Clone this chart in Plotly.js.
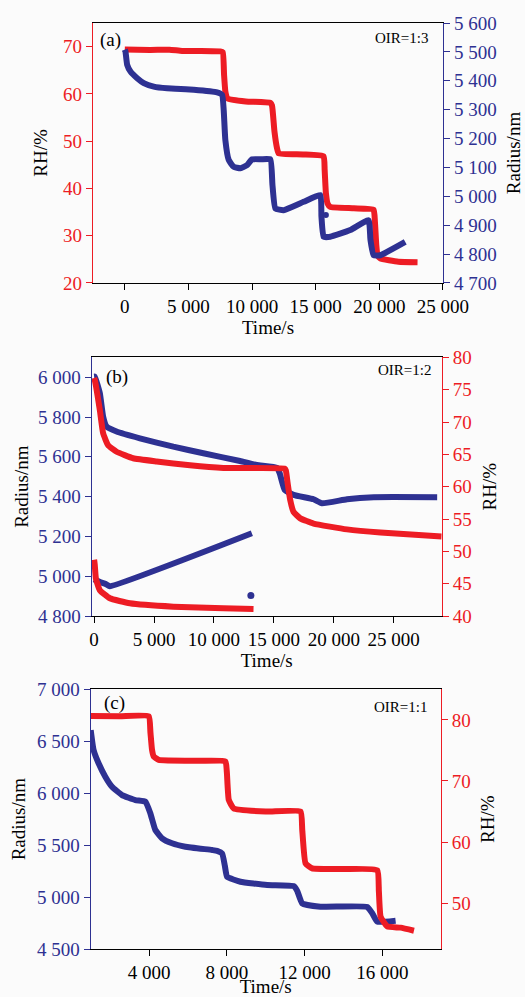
<!DOCTYPE html>
<html><head><meta charset="utf-8">
<script src="https://cdn.plot.ly/plotly-3.0.1.min.js"></script>
<style>html,body{margin:0;padding:0;background:#fbfbfb}</style>
</head><body><div id="chart" style="width:525px;height:997px"></div>
<script>
// ---------- Panel (a) OIR=1:3 ----------
const timeA_RH = [0, 2000, 3500, 4500, 6000, 7500, 7700, 7800, 7900, 8040, 9500, 11440, 11570, 11760, 11960, 12090, 14000, 15620, 15700, 15800, 15930, 16140, 18000, 19545, 19650, 19760, 19860, 20070, 21500, 23000];
const rhA = [69.4, 69.3, 69.35, 69.1, 69.1, 69.0, 68.8, 64.0, 60.5, 59.1, 58.4, 58.1, 57.5, 52.0, 48.5, 47.4, 47.2, 46.8, 44.0, 39.0, 36.8, 36.1, 35.8, 35.5, 33.0, 28.0, 25.8, 25.2, 24.5, 24.4];
const timeA_R = [0, 55, 188, 447, 973, 1491, 2276, 3327, 5418, 7252, 7645, 7770, 7900, 8163, 8556, 9082, 9608, 10000, 10700, 11436, 11600, 11830, 12480, 14050, 15360, 15450, 15620, 16145, 17717, 19152, 19300, 19545, 20070, 22033];
const radiusA = [5508, 5501, 5455, 5432, 5409, 5392, 5380, 5374, 5369, 5360, 5351, 5299, 5195, 5126, 5102, 5097, 5108, 5128, 5128, 5128, 5040, 4958, 4952, 4981, 5004, 4930, 4860, 4860, 4883, 4917, 4850, 4796, 4796, 4842];
const timeA_stub = [15800];
const radiusA_stub = [4935];

// ---------- Panel (b) OIR=1:2 ----------
const timeB_Rup = [0, 58, 477, 753, 1037, 1873, 3821, 6606, 9114, 12177, 13570, 15240, 15480, 15900, 16640, 18311, 19011, 21100, 23330, 28623];
const radiusB_up = [6003, 6003, 5920, 5802, 5752, 5727, 5693, 5651, 5618, 5579, 5559, 5546, 5518, 5434, 5409, 5387, 5367, 5387, 5397, 5397];
const timeB_Rlow = [0, 400, 753, 1000, 1313, 13161];
const radiusB_low = [4985, 4973, 4965, 4960, 4950, 5216];
const timeB_dot = [13078];
const radiusB_dot = [4903];
const timeB_RHup = [0, 58, 477, 753, 1170, 1873, 3260, 5217, 8000, 10790, 15900, 16000, 16150, 16360, 16640, 17200, 18311, 21100, 23890, 29000];
const rhB_up = [76.8, 76.5, 71.85, 68.25, 66.4, 65.4, 64.4, 63.9, 63.3, 62.9, 62.8, 62.5, 60.5, 57.95, 56.1, 55.1, 54.3, 53.4, 52.9, 52.3];
const timeB_RHlow = [0, 50, 150, 477, 1313, 2985, 6606, 10786, 13300];
const rhB_low = [48.7, 48.0, 45.8, 44.0, 42.75, 41.97, 41.45, 41.2, 41.1];

// ---------- Panel (c) OIR=1:1 ----------
const timeC_RH = [1000, 2500, 3983, 4070, 4153, 4240, 4497, 6600, 7929, 8000, 8101, 8358, 10000, 11791, 11880, 12047, 12390, 14000, 15737, 15820, 15910, 16253, 16940, 17625];
const rhC = [80.65, 80.6, 80.6, 78.0, 75.1, 74.0, 73.45, 73.3, 73.2, 71.5, 66.9, 65.5, 65.0, 65.0, 62.0, 56.55, 55.7, 55.6, 55.4, 52.0, 47.8, 46.2, 46.0, 45.5];
const timeC_R = [1000, 1147, 1405, 1750, 2095, 2610, 3295, 3810, 4067, 4324, 4670, 5184, 5870, 7244, 7500, 7760, 7900, 8015, 8700, 10075, 11446, 11620, 11876, 12819, 15221, 15480, 15738, 16681];
const radiusC = [6608, 6416, 6288, 6159, 6062, 5982, 5934, 5918, 5806, 5646, 5566, 5518, 5485, 5453, 5445, 5420, 5300, 5196, 5148, 5116, 5105, 5060, 4940, 4908, 4905, 4844, 4763, 4773];

const RED = '#ed1c24';
const BLUE = '#2e3192';
const FONT = 'Liberation Serif, Times New Roman, serif';
const LW = 6;

function line(x, y, color, xa, ya, name) {
  return {x: x, y: y, xaxis: xa, yaxis: ya, mode: 'lines', name: name,
    line: {color: color, width: LW, shape: 'spline', smoothing: 0.4}, showlegend: false};
}
function dots(x, y, color, xa, ya, size, name) {
  return {x: x, y: y, xaxis: xa, yaxis: ya, mode: 'markers', name: name,
    marker: {color: color, size: size}, showlegend: false};
}

const data = [
  line(timeA_RH, rhA, RED, 'x', 'y', 'RH (a)'),
  line(timeA_R, radiusA, BLUE, 'x', 'y2', 'Radius (a)'),
  dots(timeA_stub, radiusA_stub, BLUE, 'x', 'y2', 6, 'Radius (a) point'),

  line(timeB_Rup, radiusB_up, BLUE, 'x2', 'y3', 'Radius (b) upper'),
  line(timeB_Rlow, radiusB_low, BLUE, 'x2', 'y3', 'Radius (b) lower'),
  dots(timeB_dot, radiusB_dot, BLUE, 'x2', 'y3', 7, 'Radius (b) point'),
  line(timeB_RHup, rhB_up, RED, 'x2', 'y4', 'RH (b) upper'),
  line(timeB_RHlow, rhB_low, RED, 'x2', 'y4', 'RH (b) lower'),

  line(timeC_R, radiusC, BLUE, 'x3', 'y5', 'Radius (c)'),
  line(timeC_RH, rhC, RED, 'x3', 'y6', 'RH (c)')
];

const tickBase = {ticks: 'outside', ticklen: 6, tickwidth: 1, showgrid: false, zeroline: false,
  showline: true, linewidth: 1.2, tickformat: ',d'};

function xax(domain, anchor, range, dtick, standoff) {
  return Object.assign({}, tickBase, {domain: domain, anchor: anchor, range: range, dtick: dtick, tick0: 0,
    linecolor: '#000', tickcolor: '#000', mirror: true,
    tickfont: {family: FONT, size: 19, color: '#000'},
    title: {text: 'Time/s', font: {family: FONT, size: 19, color: '#000'}, standoff: standoff}});
}
function yax(domain, anchor, range, dtick, color, side, title, standoff, overlay) {
  const o = Object.assign({}, tickBase, {domain: domain, anchor: anchor, range: range, dtick: dtick, tick0: 0,
    side: side, linecolor: color, tickcolor: color,
    tickfont: {family: FONT, size: 19, color: color},
    title: {text: title, font: {family: FONT, size: 19, color: '#000'}, standoff: standoff}});
  if (overlay) o.overlaying = overlay;
  return o;
}

const layout = {
  width: 525, height: 997,
  margin: {l: 0, r: 0, t: 0, b: 0},
  paper_bgcolor: '#fbfbfb', plot_bgcolor: '#fbfbfb',
  separators: '. ',
  font: {family: FONT, size: 19, color: '#000'},
  showlegend: false,
  xaxis: xax([0.1771, 0.8438], 'y', [-2500, 25000], 5000, 0),
  yaxis: yax([0.7162, 0.9769], 'x', [20, 75], 10, RED, 'left', 'RH/%', 10),
  yaxis2: yax([0.7162, 0.9769], 'x', [4700, 5600], 100, BLUE, 'right', 'Radius/nm', 11, 'y'),

  xaxis2: xax([0.1747, 0.8413], 'y3', [-200, 29000], 5000, 2),
  yaxis3: yax([0.3821, 0.6416], 'x2', [4800, 6100], 200, BLUE, 'left', 'Radius/nm', 4),
  yaxis4: yax([0.3821, 0.6416], 'x2', [40, 80], 5, RED, 'right', 'RH/%', 12, 'y3'),

  xaxis3: xax([0.1728, 0.8394], 'y5', [1000, 19000], 4000, 3),
  yaxis5: yax([0.0481, 0.3086], 'x3', [4500, 7000], 500, BLUE, 'left', 'Radius/nm', 6),
  yaxis6: yax([0.0481, 0.3086], 'x3', [42.5, 85], 10, RED, 'right', 'RH/%', 11, 'y5'),

  annotations: [
    {text: '(a)', xref: 'x domain', yref: 'y domain', x: 0.014, y: 0.935, xanchor: 'left', yanchor: 'middle', showarrow: false, font: {family: FONT, size: 19, color: '#000'}},
    {text: 'OIR=1:3', xref: 'x domain', yref: 'y domain', x: 0.963, y: 0.943, xanchor: 'right', yanchor: 'middle', showarrow: false, font: {family: FONT, size: 15, color: '#000'}},
    {text: '(b)', xref: 'x2 domain', yref: 'y3 domain', x: 0.035, y: 0.923, xanchor: 'left', yanchor: 'middle', showarrow: false, font: {family: FONT, size: 19, color: '#000'}},
    {text: 'OIR=1:2', xref: 'x2 domain', yref: 'y3 domain', x: 0.976, y: 0.951, xanchor: 'right', yanchor: 'middle', showarrow: false, font: {family: FONT, size: 15, color: '#000'}},
    {text: '(c)', xref: 'x3 domain', yref: 'y5 domain', x: 0.031, y: 0.946, xanchor: 'left', yanchor: 'middle', showarrow: false, font: {family: FONT, size: 19, color: '#000'}},
    {text: 'OIR=1:1', xref: 'x3 domain', yref: 'y5 domain', x: 0.967, y: 0.931, xanchor: 'right', yanchor: 'middle', showarrow: false, font: {family: FONT, size: 15, color: '#000'}}
  ]
};

Plotly.newPlot('chart', data, layout, {displayModeBar: false, staticPlot: true});
</script>
</body></html>
